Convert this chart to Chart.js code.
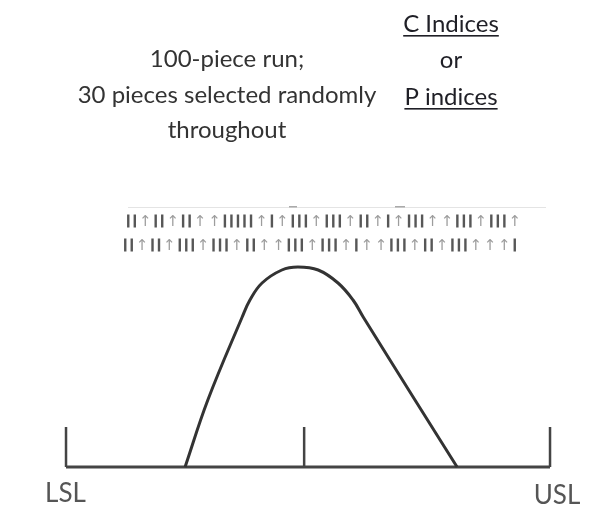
<!DOCTYPE html>
<html>
<head>
<meta charset="utf-8">
<script src="https://cdn.jsdelivr.net/npm/chart.js@4.4.1/dist/chart.umd.min.js"></script>
<style>
  html, body { margin: 0; padding: 0; background: #fff; }
  #wrap { width: 590px; height: 513px; position: relative; }
</style>
</head>
<body>
<div id="wrap"><canvas id="chart"></canvas></div>
<script>
// spec limits on the x axis (LSL = 0, USL = 10), target sits a bit left of middle
const specX = [0, 4.92, 10];
const specLabels = ['LSL', '', 'USL'];
const tickHeight = 20;

// skewed distribution curve
const curveX = [2.46, 2.93, 3.64, 3.80, 4.05, 4.46, 4.79, 5.21, 5.62, 5.93, 6.14, 7.21, 8.08];
const curveY = [0, 33.5, 75, 83.5, 92, 98.5, 100, 98.5, 92, 83.5, 75, 33.5, 0];

// the sampled pieces, drawn as two rows of marks above the curve
const pieceRows = [
  'ıı↑ıı↑ıı↑↑ııııı↑ı↑ııı↑ııı↑ıı↑ı↑ııı↑↑ııı↑ııı↑',
  'ıı↑ıı↑ııı↑ııı↑ıı↑↑ııı↑ııı↑ı↑↑ııı↑ıı↑ııı↑↑↑ı'
];

const leftNote = ['100-piece run;', '30 pieces selected randomly', 'throughout'];
const rightNote = ['C Indices', 'or', 'P indices'];
const rightUnderlined = [true, false, true];

const lineColor = '#444';

const curveData = curveX.map((x, i) => ({ x: x, y: curveY[i] }));
const baseData = [{ x: specX[0], y: 0 }, { x: specX[2], y: 0 }];

const tickSets = specX.map(x => ({
  data: [{ x: x, y: 0 }, { x: x, y: tickHeight }],
  borderColor: lineColor,
  borderWidth: 2.5,
  pointRadius: 0,
  borderCapStyle: 'butt'
}));

const annotations = {
  id: 'annotations',
  afterDraw(chart) {
    const ctx = chart.ctx;
    const xs = chart.scales.x;
    const ys = chart.scales.y;
    ctx.save();

    // notes at the top
    ctx.textAlign = 'center';
    ctx.textBaseline = 'alphabetic';
    ctx.font = '24px Lato';
    ctx.fillStyle = '#333';
    const leftY = [67, 103, 138];
    leftNote.forEach((t, i) => ctx.fillText(t, 227, leftY[i]));

    ctx.fillStyle = '#1f1f26';
    const rightY = [32, 68, 105];
    rightNote.forEach((t, i) => {
      ctx.fillText(t, 451, rightY[i]);
      if (rightUnderlined[i]) {
        const w = ctx.measureText(t).width;
        ctx.fillRect(451 - w / 2, rightY[i] + 3, w, 1.6);
      }
    });

    // faint edge of the pasted picture
    ctx.fillStyle = '#e4e4e4';
    ctx.fillRect(128, 207, 418, 1);
    ctx.fillStyle = '#aaa';
    ctx.fillRect(289, 206, 8, 1.5);
    ctx.fillRect(395, 206, 10, 1.5);

    // rows of sampled pieces: arrows take more room than bars
    ctx.font = '15px "DejaVu Sans"';
    ctx.textAlign = 'center';
    ctx.textBaseline = 'middle';
    const rowY = [221, 245];
    const rowX = [[125, 522], [122, 518]];
    pieceRows.forEach((row, r) => {
      const chars = Array.from(row);
      const units = chars.reduce((s, c) => s + (c === '↑' ? 2.2 : 1), 0);
      const unit = (rowX[r][1] - rowX[r][0]) / units;
      let cx = rowX[r][0];
      chars.forEach(c => {
        const adv = (c === '↑' ? 2.2 : 1) * unit;
        const mid = cx + adv / 2;
        if (c === '↑') {
          ctx.fillStyle = '#9d9d9d';
          ctx.fillText(c, mid, rowY[r] + 1);
        } else {
          ctx.fillStyle = '#575757';
          ctx.fillRect(mid - 1.2, rowY[r] - 6.5, 2.4, 13);
        }
        cx += adv;
      });
    });

    // LSL / USL labels under the ends of the line
    ctx.font = '26px Lato';
    ctx.fillStyle = '#555';
    ctx.textBaseline = 'alphabetic';
    ctx.textAlign = 'center';
    ctx.fillText(specLabels[0], xs.getPixelForValue(specX[0]) - 0.5, ys.getPixelForValue(-17.5));
    ctx.fillText(specLabels[2], xs.getPixelForValue(specX[2]) + 7, ys.getPixelForValue(-18.5));

    ctx.restore();
  }
};

new Chart(document.getElementById('chart'), {
  type: 'line',
  data: {
    datasets: [
      {
        data: curveData,
        borderColor: '#333',
        borderWidth: 3,
        pointRadius: 0,
        tension: 0.4
      },
      {
        data: baseData,
        borderColor: lineColor,
        borderWidth: 3,
        pointRadius: 0
      },
      ...tickSets
    ]
  },
  options: {
    responsive: true,
    maintainAspectRatio: false,
    animation: false,
    layout: { padding: 0 },
    plugins: {
      legend: { display: false },
      tooltip: { enabled: false }
    },
    scales: {
      x: { type: 'linear', display: false, min: -1.364, max: 10.826 },
      y: { type: 'linear', display: false, min: -23, max: 233.5 }
    }
  },
  plugins: [annotations]
});
</script>
</body>
</html>
